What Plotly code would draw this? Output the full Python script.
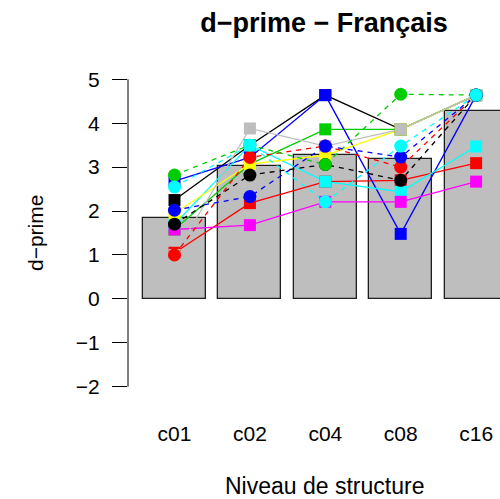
import numpy as np
import plotly.graph_objects as go

# Structure levels on the x axis
categories = ["c01", "c02", "c04", "c08", "c16"]

# Subjects plotted with filled squares and solid lines
square_colors = ["#000000", "#FF0000", "#00CD00", "#0000FF",
                 "#00FFFF", "#FF00FF", "#FFFF00", "#BEBEBE"]
square_values = [
    [2.25, 3.50, 4.64, 3.86, 4.64],   # black
    [1.05, 2.18, 2.67, 2.70, 3.09],   # red
    [1.58, 3.07, 3.86, 3.86, 4.64],   # green
    [2.68, 3.22, 4.64, 1.48, 4.64],   # blue
    [1.70, 3.50, 2.67, 2.44, 3.47],   # cyan
    [1.58, 1.68, 2.21, 2.21, 2.67],   # magenta
    [1.95, 3.07, 3.27, 3.86, 4.64],   # yellow
    [1.00, 3.88, 3.48, 3.86, 4.64],   # gray
]

# Subjects plotted with filled circles and dashed lines
circle_colors = ["#000000", "#FF0000", "#00CD00", "#0000FF", "#00FFFF"]
circle_values = [
    [1.70, 2.82, 3.06, 2.70, 4.64],   # black
    [1.00, 3.22, 3.48, 3.00, 4.64],   # red
    [2.82, 3.50, 3.06, 4.66, 4.64],   # green
    [2.02, 2.33, 3.48, 3.23, 4.64],   # blue
    [2.55, 3.50, 2.21, 3.48, 4.64],   # cyan
]

y_ticks = [-2, -1, 0, 1, 2, 3, 4, 5]

# Bar heights are the group means over all subjects
all_values = np.array(square_values + circle_values)
means = all_values.mean(axis=0)

# barplot-style positions: width 1, gap 0.2
bar_x = [0.7 + 1.2 * i for i in range(len(categories))]

FONT = "Liberation Sans, Arial, Helvetica, sans-serif"

fig = go.Figure()

fig.add_trace(go.Bar(
    x=bar_x, y=means, width=1.0,
    marker=dict(color="#BEBEBE", line=dict(color="#1e1e1e", width=1.3)),
    hoverinfo="skip", showlegend=False,
))

series = ([(c, v, "square", "solid") for c, v in zip(square_colors, square_values)] +
          [(c, v, "circle", "5px,5px") for c, v in zip(circle_colors, circle_values)])

# connecting lines first, markers on top
for color, vals, sym, dash in series:
    fig.add_trace(go.Scatter(
        x=bar_x, y=vals, mode="lines",
        line=dict(color=color, width=1.3, dash=dash),
        showlegend=False, hoverinfo="skip",
    ))

for color, vals, sym, dash in series:
    fig.add_trace(go.Scatter(
        x=bar_x, y=vals, mode="markers",
        marker=dict(color=color, symbol=sym,
                    size=12 if sym == "square" else 13,
                    line=dict(width=0)),
        showlegend=False,
    ))

fig.update_layout(
    width=500, height=499,
    margin=dict(l=128, r=0, t=67, b=100),
    paper_bgcolor="white", plot_bgcolor="white",
    font=dict(family=FONT, color="black", size=21),
    bargap=0,
    title=dict(
        text="<b>d\u2212prime \u2212 Français</b>",
        x=0.527, xref="paper", xanchor="center",
        y=1 - 23 / 499, yref="container", yanchor="middle",
        font=dict(family=FONT, size=27, color="black"),
    ),
    xaxis=dict(
        range=[-0.04, 5.88], tickvals=bar_x, ticktext=categories,
        showgrid=False, zeroline=False, showline=False, ticks="",
        tickfont=dict(size=21), ticklabelstandoff=20,
    ),
    yaxis=dict(
        range=[-2.28, 5.28], tickvals=y_ticks,
        ticktext=[str(t).replace("-", "\u2212") for t in y_ticks],
        showgrid=False, zeroline=False, showline=False,
        ticks="outside", ticklen=15, tickwidth=1, tickcolor="black",
        tickfont=dict(size=21), ticklabelstandoff=8,
    ),
    shapes=[dict(type="line", xref="paper", x0=0, x1=0, yref="y", y0=-2, y1=5,
                 line=dict(color="black", width=1))],
    annotations=[
        dict(text="Niveau de structure", xref="paper", yref="paper",
             x=0.527, y=-(486 - 399) / 332, xanchor="center", yanchor="middle",
             showarrow=False, font=dict(size=23)),
        dict(text="d\u2212prime", xref="paper", yref="paper",
             x=(35 - 128) / 372, y=0.5, xanchor="center", yanchor="middle",
             textangle=-90, showarrow=False, font=dict(size=21)),
    ],
)

fig.write_html("out.html")
